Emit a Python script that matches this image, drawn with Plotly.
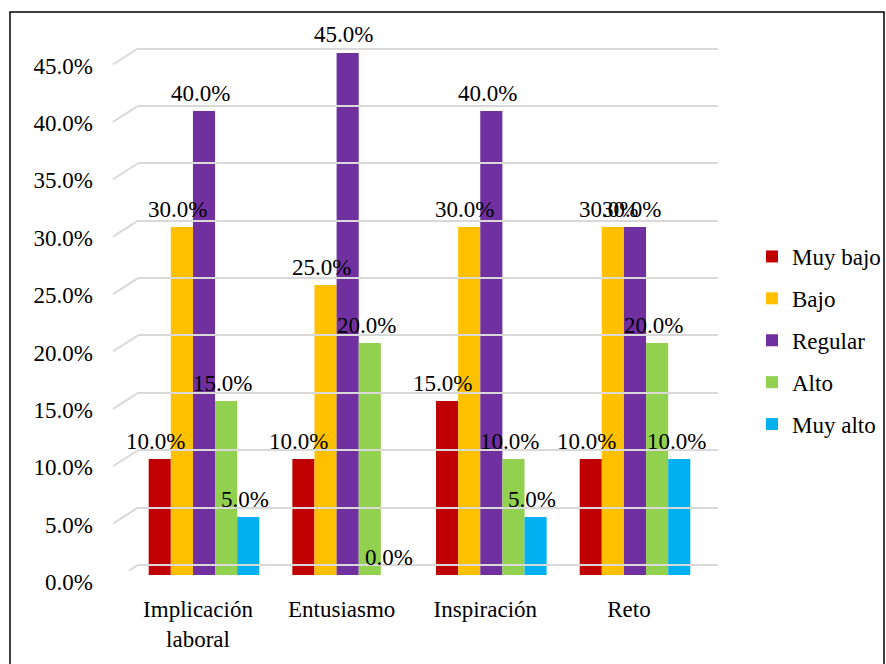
import plotly.graph_objects as go

categories = ["Implicación<br>laboral", "Entusiasmo", "Inspiración", "Reto"]
series_names = ["Muy bajo", "Bajo", "Regular", "Alto", "Muy alto"]
muy_bajo = [0.10, 0.10, 0.15, 0.10]
bajo = [0.30, 0.25, 0.30, 0.30]
regular = [0.40, 0.45, 0.40, 0.30]
alto = [0.15, 0.20, 0.10, 0.20]
muy_alto = [0.05, 0.00, 0.05, 0.10]
tick_vals = [0.0, 0.05, 0.10, 0.15, 0.20, 0.25, 0.30, 0.35, 0.40, 0.45]

series_values = [muy_bajo, bajo, regular, alto, muy_alto]
colors = ["#C00000", "#FFC000", "#7030A0", "#92D050", "#00B0F0"]

W, H = 886, 664
FONT = "Liberation Serif"
FS = 23

fig = go.Figure()
# invisible trace to create grid/label axis (drawn first, below bars)
fig.add_trace(go.Scatter(x=[0], y=[0], xaxis="x2", yaxis="y2", mode="markers",
                         marker=dict(opacity=0), showlegend=False, hoverinfo="skip"))
for i, (name, vals, col) in enumerate(zip(series_names, series_values, colors)):
    fig.add_trace(go.Bar(
        x=categories, y=vals, name=name, marker=dict(color=col, line=dict(width=0)),
        xaxis="x", yaxis="y", legendgroup=name,
    ))

annotations = []
bar_px = 22.5
for i, vals in enumerate(series_values):
    for c, v in zip(categories, vals):
        annotations.append(dict(
            x=c, y=v, xref="x", yref="y", text=f"{v*100:.1f}%", showarrow=False,
            xshift=(i - 2) * bar_px - 4, yshift=18, yanchor="middle", xanchor="center",
            font=dict(family=FONT, size=FS, color="#000000"),
        ))

shapes = []
# 3D-style slanted grid stubs
for v in tick_vals:
    shapes.append(dict(
        type="line", xref="paper", yref="y2", ysizemode="pixel", yanchor=v,
        x0=113 / W, x1=138 / W, y0=-16, y1=0,
        line=dict(color="#D9D9D9", width=2), layer="below",
    ))
# outer border
shapes.append(dict(type="rect", xref="paper", yref="paper",
                   x0=10 / W, x1=884 / W, y0=-0.05, y1=(H - 12) / H,
                   line=dict(color="#000000", width=1.5), fillcolor="rgba(0,0,0,0)"))

# grid axis: 0 -> 565 px, 0.45 -> 48.5 px, padded by 0.005 each side
pxu = (565 - 48.5) / 0.45
pad = 0.005
g_bot = 565 + pad * pxu
g_top = 48.5 - pad * pxu

fig.update_layout(
    width=W, height=H,
    margin=dict(l=0, r=0, t=0, b=0, pad=0, autoexpand=False),
    paper_bgcolor="white", plot_bgcolor="rgba(0,0,0,0)",
    barmode="group", bargap=0.23, bargroupgap=0,
    font=dict(family=FONT, size=FS, color="#000000"),
    xaxis=dict(domain=[123.5 / W, 707.5 / W], anchor="y", showgrid=False, showline=False,
               zeroline=False, ticks="", ticklabelstandoff=18, ticklabelshift=-6,
               automargin=False, tickfont=dict(family=FONT, size=FS)),
    yaxis=dict(domain=[(H - 575) / H, (H - 53) / H], range=[0, 0.45], anchor="x",
               showgrid=False, showticklabels=False, zeroline=False, showline=False,
               automargin=False),
    xaxis2=dict(domain=[138 / W, 718 / W], anchor="y2", range=[0, 1],
                visible=False, showgrid=False, automargin=False),
    yaxis2=dict(domain=[(H - g_bot) / H, (H - g_top) / H], range=[-pad, 0.45 + pad], anchor="x2",
                tickvals=tick_vals, tickformat=".1%", showgrid=True,
                gridcolor="#D9D9D9", gridwidth=2, zeroline=False, showline=False,
                ticks="", ticklabelstandoff=44, ticklabelshift=17, automargin=False,
                tickfont=dict(family=FONT, size=FS)),
    legend=dict(x=752 / W, y=(H - 235) / H, xanchor="left", yanchor="top",
                font=dict(family=FONT, size=FS), tracegroupgap=9,
                bgcolor="rgba(0,0,0,0)"),
    annotations=annotations,
    shapes=shapes,
    showlegend=True,
)

fig.write_html("out.html")
